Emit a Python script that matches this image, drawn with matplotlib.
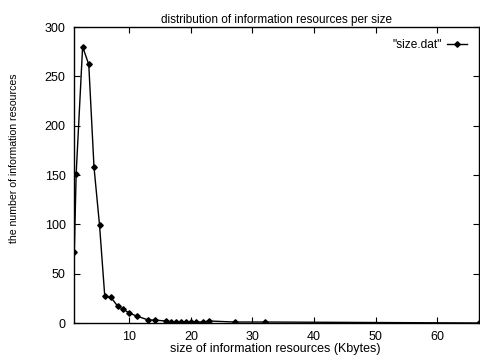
import matplotlib
matplotlib.use("Agg")
import matplotlib.pyplot as plt

size_kb = [1.05, 1.35, 2.4, 3.4, 4.25, 5.15, 6.0, 7.0, 8.1, 9.0, 10.0, 11.2,
           13.1, 14.1, 15.9, 16.8, 17.6, 18.4, 19.2, 20.0, 20.9, 21.9, 23.0,
           27.1, 32.1, 66.8]
counts = [72, 151, 280, 262, 158, 99, 27, 26, 17, 14, 10, 7,
          3, 3, 2, 1, 1, 1, 1, 1, 1, 1, 2,
          1, 1, 0]

xticks = [10, 20, 30, 40, 50, 60]
yticks = [0, 50, 100, 150, 200, 250, 300]

plt.rcParams['font.family'] = ['Liberation Sans', 'DejaVu Sans']

W, H = 480, 355
fig = plt.figure(figsize=(4.8, 3.55), dpi=100)
ax = fig.add_axes([74/W, 1-323/H, (479-74)/W, (323-27)/H])

ax.plot(size_kb, counts, color='black', linewidth=1.0, marker='D',
        markersize=2.8, label='"size.dat"')

ax.set_xlim(1, 66.8)
ax.set_ylim(0, 300)
ax.set_xticks(xticks)
ax.set_yticks(yticks)
ax.tick_params(direction='in', length=4, width=0.8, top=True, right=True,
               labelsize=9, pad=6)
for s in ax.spines.values():
    s.set_linewidth(1.0)

ax.set_title('distribution of information resources per size', fontsize=8.5, pad=3)
fig.text(275/W, 1-349/H, 'size of information resources (Kbytes)', fontsize=9,
         ha='center', va='center')
fig.text(14/W, 1-158/H, 'the number of information resources', fontsize=7.6,
         ha='center', va='center', rotation=90)

ax.legend(loc='upper right', frameon=False, fontsize=8.6, handlelength=1.7,
          handletextpad=0.4, markerfirst=False, borderaxespad=0.6)

fig.savefig('out.png', dpi=100)
